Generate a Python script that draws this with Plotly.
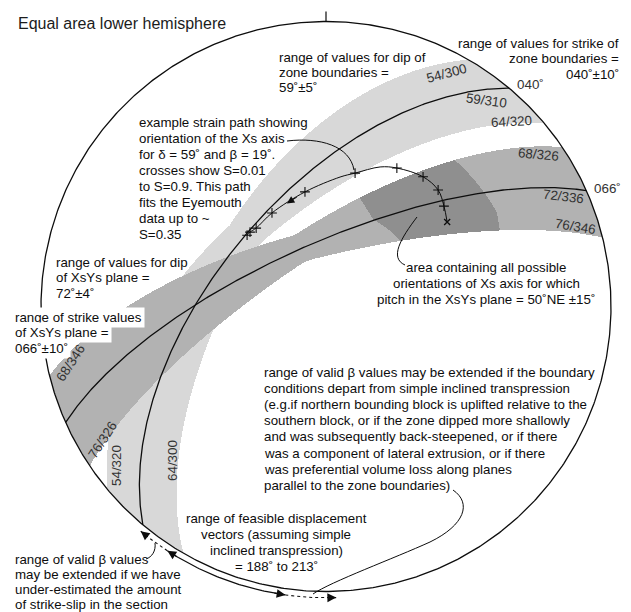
import numpy as np
import plotly.graph_objects as go

# ---------------------------------------------------------------
# Orientation data (degrees)
# ---------------------------------------------------------------
# zone boundaries: dip / dip direction (min, mean, max)
ZONE_DIP = [54, 59, 64]
ZONE_DIPDIR = [300, 310, 320]
# XsYs plane: dip / dip direction (min, mean, max)
XSYS_DIP = [68, 72, 76]
XSYS_DIPDIR = [326, 336, 346]
# pitch of Xs in the XsYs plane, measured from NE (min, max)
PITCH_NE = [35, 65]

# example strain path of the Xs axis (trend, plunge), S increasing along the list
PATH_TREND = [55.1, 49.6, 43.9, 36.8, 27.1, 21.2, 12.3, 6.2, 349.6, 330.0, 318.3, 314.4, 312.1]
PATH_PLUNGE = [47.0, 44.8, 42.7, 42.6, 44.6, 46.4, 50.4, 52.3, 56.4, 58.9, 59.8, 59.4, 59.4]
# crosses along the path, S = 0.01 ... 0.9
CROSS_TREND = [49.6, 43.9, 36.8, 27.1, 12.3, 349.6, 330.0, 318.3, 314.4, 312.1]
CROSS_PLUNGE = [44.8, 42.7, 42.6, 44.6, 50.4, 56.4, 58.9, 59.8, 59.4, 59.4]
# starting orientation of the path
START_TREND = [55.1]
START_PLUNGE = [47.0]

# displacement vector trends: feasible range and possible extension
DISP_RANGE = [188, 213]
DISP_EXTENDED = [178, 219.5]

# great-circle labels
GC_LABELS_NE = ["54/300", "59/310", "64/320", "68/326", "72/336", "76/346"]
GC_LABELS_SW = ["68/346", "76/326", "54/320", "64/300"]

# ---------------------------------------------------------------
# Page geometry
# ---------------------------------------------------------------
W, H = 631, 612
CX, CY, R = 326.0, 306.5, 285.0
FONT = "Liberation Sans, Arial, Helvetica, sans-serif"
INK = "#0d0d0d"
LABEL_INK = "#333333"


def P(px, py):
    """page pixel -> net coordinates (primitive radius = 1)"""
    return (px - CX) / R, (CY - py) / R


def proj(trend, plunge):
    """equal-area lower-hemisphere projection of a line"""
    t = np.radians(np.asarray(trend, float))
    p = np.radians(np.asarray(plunge, float))
    r = np.sqrt(2.0) * np.sin((np.pi / 2 - p) / 2)
    return r * np.sin(t), r * np.cos(t)


def great_circle(dip, dipdir, n=361):
    dd = np.radians(dipdir)
    dp = np.radians(dip)
    s = np.array([np.sin(dd - np.pi / 2), np.cos(dd - np.pi / 2), 0.0])
    d = np.array([np.sin(dd) * np.cos(dp), np.cos(dd) * np.cos(dp), np.sin(dp)])
    th = np.linspace(0, np.pi, n)
    v = np.outer(np.cos(th), s) + np.outer(np.sin(th), d)
    plunge = np.degrees(np.arcsin(np.clip(v[:, 2], -1, 1)))
    trend = np.degrees(np.arctan2(v[:, 0], v[:, 1]))
    return proj(trend, plunge)


# ---------------------------------------------------------------
# Shaded domains, evaluated on a pixel grid of the net
# ---------------------------------------------------------------
gx = (np.arange(int(CX - R) - 2, int(CX + R) + 3) + 0.5 - CX) / R
gy = np.sort((CY - (np.arange(int(CY - R) - 2, int(CY + R) + 3) + 0.5)) / R)
GX, GY = np.meshgrid(gx, gy)
RR = np.hypot(GX, GY)
inside = RR <= 1.0
PL = 90 - 2 * np.degrees(np.arcsin(np.clip(RR / np.sqrt(2), 0, 1)))
TR = np.degrees(np.arctan2(GX, GY))
TANP = np.tan(np.radians(np.minimum(PL, 89.999)))
SINP = np.sin(np.radians(PL))


def wrap(a):
    return (a + 180.0) % 360.0 - 180.0


def dip_from_offset(a):
    """dip of a plane containing the line, given |trend - dip direction|"""
    c = np.cos(np.radians(a))
    return np.where(a < 90, np.degrees(np.arctan2(TANP, np.maximum(c, 1e-12))), 90.0)


def plane_band(dips, dipdirs):
    """lines lying in at least one plane of the given dip / dip-direction range"""
    a1 = wrap(TR - dipdirs[0])
    a2 = a1 - (dipdirs[1] - dipdirs[0])
    amin = np.where((a1 >= 0) & (a2 <= 0), 0.0, np.minimum(np.abs(a1), np.abs(a2)))
    amax = np.maximum(np.abs(a1), np.abs(a2))
    dmin = dip_from_offset(amin)
    dmax = dip_from_offset(amax)
    return inside & (dmin <= dips[1]) & (dmax >= dips[0])


def pitch_band(dips, dipdirs, pitch):
    """lines in those planes whose pitch from the NE strike lies in range"""
    hit = np.zeros(GX.shape, bool)
    for dd in np.linspace(dipdirs[0], dipdirs[1], 161):
        c = np.cos(np.radians(TR - dd))
        dip = np.degrees(np.arctan2(TANP, c))
        sd = np.sin(np.radians(np.clip(dip, 1e-3, 90)))
        rake = np.degrees(np.arcsin(np.clip(SINP / sd, -1, 1)))
        ne = np.cos(np.radians(TR - (dd + 90))) > 0
        hit |= (dip >= dips[0]) & (dip <= dips[1]) & ne & (rake >= pitch[0]) & (rake <= pitch[1])
    return hit & inside


zone = plane_band([ZONE_DIP[0], ZONE_DIP[-1]], [ZONE_DIPDIR[0], ZONE_DIPDIR[-1]])
xsys = plane_band([XSYS_DIP[0], XSYS_DIP[-1]], [XSYS_DIPDIR[0], XSYS_DIPDIR[-1]])
xs_axis = pitch_band([XSYS_DIP[0], XSYS_DIP[-1]], [XSYS_DIPDIR[0], XSYS_DIPDIR[-1]], PITCH_NE)

Z = np.full(GX.shape, np.nan)
Z[zone] = 1
Z[xsys] = 2
Z[xs_axis] = 3

fig = go.Figure()
fig.add_trace(go.Heatmap(
    x=gx, y=gy, z=Z, zmin=1, zmax=3, showscale=False, hoverinfo="skip",
    colorscale=[[0, "#d8d8d8"], [0.25, "#d8d8d8"], [0.25, "#b2b2b2"],
                [0.75, "#b2b2b2"], [0.75, "#8f8f8f"], [1, "#8f8f8f"]],
))

# primitive circle and north tick
az = np.linspace(0, 360, 721)
fig.add_trace(go.Scatter(x=np.sin(np.radians(az)), y=np.cos(np.radians(az)), mode="lines",
                         line=dict(color=INK, width=1.3), hoverinfo="skip"))
fig.add_trace(go.Scatter(x=[0, 0], y=[1.0, 1.035], mode="lines",
                         line=dict(color=INK, width=1.2), hoverinfo="skip"))

# mean great circles
for dip, dd in [(ZONE_DIP[1], ZONE_DIPDIR[1]), (XSYS_DIP[1], XSYS_DIPDIR[1])]:
    x, y = great_circle(dip, dd)
    fig.add_trace(go.Scatter(x=x, y=y, mode="lines", line=dict(color=INK, width=1.3),
                             hoverinfo="skip"))

# strain path
px_, py_ = proj(PATH_TREND, PATH_PLUNGE)
fig.add_trace(go.Scatter(x=px_, y=py_, mode="lines", line=dict(color=INK, width=1, shape="spline"),
                         hoverinfo="skip"))
cx_, cy_ = proj(CROSS_TREND, CROSS_PLUNGE)
fig.add_trace(go.Scatter(x=cx_, y=cy_, mode="markers", hoverinfo="skip",
                         marker=dict(symbol="cross-thin", size=7, line=dict(color=INK, width=1.1))))
sx_, sy_ = proj(START_TREND, START_PLUNGE)
fig.add_trace(go.Scatter(x=sx_, y=sy_, mode="markers", hoverinfo="skip",
                         marker=dict(symbol="x-thin", size=6, line=dict(color=INK, width=1.3))))

# displacement vector range, just outside the primitive
RA = 1.022
t = np.radians(np.linspace(DISP_RANGE[0], DISP_RANGE[1], 60))
fig.add_trace(go.Scatter(x=RA * np.sin(t), y=RA * np.cos(t), mode="lines",
                         line=dict(color=INK, width=1.2), hoverinfo="skip"))
for a, b in [(DISP_RANGE[1], DISP_EXTENDED[1]), (DISP_EXTENDED[0], DISP_RANGE[0])]:
    t = np.radians(np.linspace(a, b, 20))
    fig.add_trace(go.Scatter(x=RA * np.sin(t), y=RA * np.cos(t), mode="lines",
                             line=dict(color=INK, width=1.1, dash="3px,3px"), hoverinfo="skip"))

annotations = []


def arrow_head(t_head, t_tail, radius=RA):
    th, tt = np.radians(t_head), np.radians(t_tail)
    annotations.append(dict(
        x=radius * np.sin(th), y=radius * np.cos(th),
        ax=radius * np.sin(tt), ay=radius * np.cos(tt),
        xref="x", yref="y", axref="x", ayref="y", text="", showarrow=True,
        arrowhead=2, arrowsize=1.6, arrowwidth=1.1, arrowcolor=INK, standoff=0))


arrow_head(DISP_RANGE[1], DISP_RANGE[1] - 2.5)
arrow_head(DISP_RANGE[0], DISP_RANGE[0] + 2.5)
arrow_head(DISP_EXTENDED[1], DISP_EXTENDED[1] - 2.0)
arrow_head(DISP_EXTENDED[0], DISP_EXTENDED[0] + 2.0)

# direction arrow on the strain path
hx = cx_[5] + 0.55 * (cx_[6] - cx_[5])
hy = cy_[5] + 0.55 * (cy_[6] - cy_[5])
annotations.append(dict(x=hx, y=hy, ax=cx_[5] + 0.2 * (cx_[6] - cx_[5]),
                        ay=cy_[5] + 0.2 * (cy_[6] - cy_[5]),
                        xref="x", yref="y", axref="x", ayref="y", text="", showarrow=True,
                        arrowhead=2, arrowsize=1.5, arrowwidth=1.0, arrowcolor=INK, standoff=0))


def text_lines(lines, x, y0, dy=16.0, anchor="left", size=13.3, bg=None, color=INK):
    for k, s in enumerate(lines):
        X, Y = P(x, y0 + k * dy)
        a = dict(x=X, y=Y, xref="x", yref="y", text=s, showarrow=False, xanchor=anchor,
                 yanchor="middle", font=dict(family=FONT, size=size, color=color))
        if bg:
            a.update(bgcolor=bg, borderpad=2)
        annotations.append(a)


def label(s, x, y, angle=0, size=13.4):
    X, Y = P(x, y)
    annotations.append(dict(x=X, y=Y, xref="x", yref="y", text=s, showarrow=False,
                            textangle=angle, xanchor="center", yanchor="middle",
                            font=dict(family=FONT, size=size, color=LABEL_INK)))


text_lines(["Equal area lower hemisphere"], 16, 23, size=16, color="#1c1c1c")
text_lines(["range of values for strike of", "zone boundaries =", "040˚±10˚"], 621, 43,
           dy=15.6, anchor="right")
text_lines(["range of values for dip of", "zone boundaries =", "59˚±5˚"], 277, 57, dy=15.3)
text_lines(["example strain path showing", "orientation of the Xs axis",
            "for δ = 59˚ and β = 19˚.", "crosses show S=0.01", "to S=0.9. This path",
            "fits the Eyemouth", "data up to ~", "S=0.35"], 137, 122, dy=16.0)
text_lines(["range of values for dip", "of XsYs plane =", "72˚±4˚"], 54, 262, dy=15.6)
text_lines(["range of strike values", "of XsYs plane =", "066˚±10˚"], 12, 317, dy=15.6,
           bg="white")
text_lines(["area containing all possible", "orientations of Xs axis for which",
            "pitch in the XsYs plane = 50˚NE ±15˚"], 486, 267, dy=16.0, anchor="center")
text_lines(["range of valid β values may be extended if the boundary",
            "conditions depart from simple inclined transpression",
            "(e.g.if northern bounding block is uplifted relative to the",
            "southern block, or if the zone dipped more shallowly",
            "and was subsequently back-steepened, or if there",
            "was a component of lateral extrusion, or if there",
            "was preferential volume loss along planes",
            "parallel to the zone boundaries)"], 262, 372, dy=16.2)
text_lines(["range of feasible displacement", "vectors (assuming simple",
            "inclined transpression)", "= 188˚ to 213˚"], 276, 518, dy=16.3, anchor="center")
text_lines(["range of valid β values", "may be extended if we have",
            "under-estimated the amount", "of strike-slip in the section"], 13, 559, dy=15.3)

label("040˚", 530, 84)
label("066˚", 607, 188)
for s, (x, y, ang) in zip(GC_LABELS_NE, [(446, 73, -15), (486, 100, 8), (511, 121, -3),
                                           (538, 154, 5), (563, 196, 7), (575, 226, 9)]):
    label(s, x, y, ang)
for s, (x, y, ang) in zip(GC_LABELS_SW, [(70, 363, -57), (102, 440, -57),
                                           (116, 466, -90), (172, 461, -90)]):
    label(s, x, y, ang)


# curved leader lines
def leader(*pts):
    q = [P(x, y) for x, y in pts]
    d = "M {:.4f},{:.4f}".format(*q[0])
    for i in range(1, len(q), 3):
        d += " C " + " ".join("{:.4f},{:.4f}".format(*c) for c in q[i:i + 3])
    return dict(type="path", path=d, xref="x", yref="y",
                line=dict(color=INK, width=1.0), layer="above")


shapes = [
    leader((287, 141), (320, 137), (350, 146), (354, 170)),
    leader((417, 217), (401, 238), (389, 258), (405, 265)),
    leader((453, 490), (472, 503), (465, 525), (430, 542), (395, 558), (330, 582), (313, 594)),
    leader((146, 559), (152, 557), (156, 551), (155, 543)),
]

fig.update_layout(
    width=W, height=H, margin=dict(l=0, r=0, t=0, b=0),
    paper_bgcolor="white", plot_bgcolor="white", showlegend=False,
    xaxis=dict(range=[(0 - CX) / R, (W - CX) / R], visible=False, fixedrange=True),
    yaxis=dict(range=[(CY - H) / R, CY / R], visible=False, fixedrange=True),
    annotations=annotations, shapes=shapes,
)

fig.write_html("out.html")
